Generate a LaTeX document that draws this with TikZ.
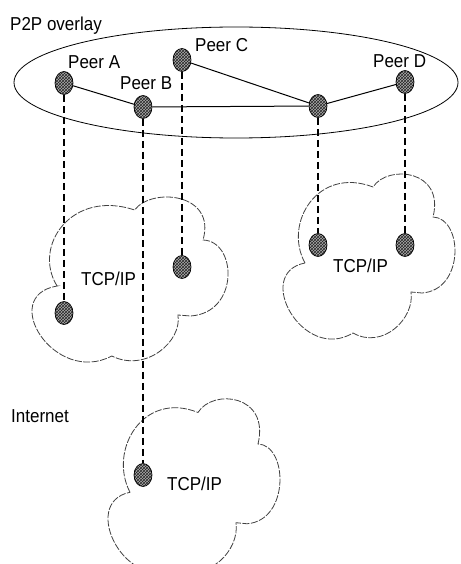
\documentclass[tikz,border=0pt]{standalone}
\usepackage{fontspec}
\usepackage{graphicx}
\setmainfont{Liberation Sans}
\usetikzlibrary{shapes.geometric,patterns}
\newcommand\txt[1]{\scalebox{1}[1.1]{#1}}
\newcommand\cloudpath{(22,85) .. controls (0,45) and (35,-12) .. (90,9)
  .. controls (105,-14) and (162,-8) .. (150,39)
  .. controls (180,40) and (182,112) .. (139,115)
  -- (128,114)
  .. controls (132,140) and (100,172) .. (70,155)
  .. controls (20,185) and (-30,95) .. cycle}
\tikzset{
  peer/.style={ellipse, draw=black, line width=0.7pt, minimum width=18pt, minimum height=23pt, inner sep=0pt,
    preaction={fill=gray!65}, pattern=crosshatch, pattern color=black!85},
  cloudline/.style={draw=gray!50!black, line width=0.8pt, dash pattern=on 7pt off 1.5pt},
  link/.style={line width=1pt, black},
  vlink/.style={line width=1.2pt, black, dash pattern=on 7pt off 4pt},
  lbl/.style={inner sep=0pt, font=\fontsize{17}{19}\selectfont, text=black}
}
\begin{document}
\begin{tikzpicture}[x=1pt,y=-1pt]
\useasboundingbox (0,0) rectangle (460,564);
% clouds
\begin{scope}[shift={(32,201)}, xscale=1.14]
  \draw[cloudline] \cloudpath;
\end{scope}
\begin{scope}[shift={(283,178)}]
  \draw[cloudline] \cloudpath;
\end{scope}
\begin{scope}[shift={(108,403)}, yscale=1.05]
  \draw[cloudline] \cloudpath;
\end{scope}
% overlay ellipse
\draw[line width=0.8pt] (236,82.5) ellipse [x radius=222, y radius=55.5];
% labels
\node[lbl, anchor=base west] (tover) at (10,30.5) {\txt{P2P overlay}};
\node[lbl, anchor=base west] (tA) at (68,69) {\txt{Peer A}};
\node[lbl, anchor=base west] (tB) at (120,90) {\txt{Peer B}};
\node[lbl, anchor=base west] (tC) at (195,52) {\txt{Peer C}};
\node[lbl, anchor=base west] (tD) at (373,68) {\txt{Peer D}};
\node[lbl, anchor=base west] (tnet) at (11,422) {\txt{Internet}};
\node[lbl, anchor=base west] (t1) at (81,285) {\txt{TCP/IP}};
\node[lbl, anchor=base west] (t2) at (333,272) {\txt{TCP/IP}};
\node[lbl, anchor=base west] (t3) at (167,490) {\txt{TCP/IP}};
% peers
\node[peer] (pA) at (64,83) {};
\node[peer] (pB) at (143,107) {};
\node[peer] (pC) at (182,60) {};
\node[peer] (pX) at (318,106) {};
\node[peer] (pD) at (405,82) {};
% underlay nodes
\node[peer] (a1) at (64,313) {};
\node[peer] (c1) at (182,267) {};
\node[peer] (x2) at (318,245) {};
\node[peer] (d2) at (405,245) {};
\node[peer] (b3) at (143,475) {};
% overlay links
\draw[link] (pA) -- (pB);
\draw[link] (pB) -- (pX);
\draw[link] (pC) -- (pX);
\draw[link] (pX) -- (pD);
% vertical mappings
\draw[vlink] (pA) -- (a1);
\draw[vlink] (pB) -- (b3);
\draw[vlink] (pC) -- (c1);
\draw[vlink] (pX) -- (x2);
\draw[vlink] (pD) -- (d2);
\end{tikzpicture}
\end{document}
